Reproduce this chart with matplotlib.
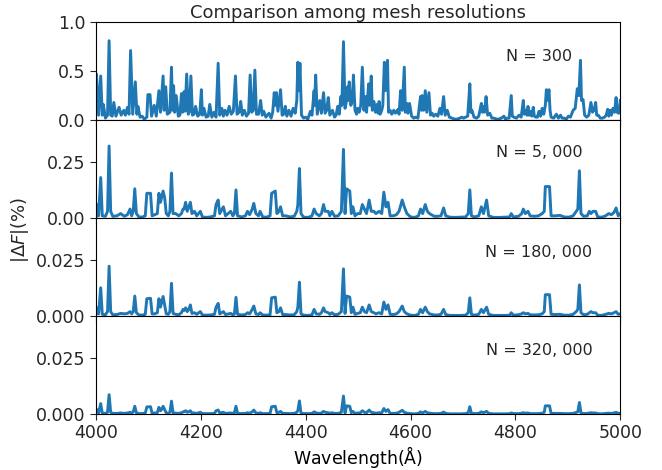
import matplotlib
matplotlib.use('Agg')
import matplotlib.pyplot as plt

# coarse mesh (N = 300): wavelength (A) and |dF| (%)
wl_coarse = [
    4000, 4001, 4005, 4009, 4012, 4014, 4018, 4022, 4025, 4028,
    4031, 4034, 4038, 4044, 4048, 4053, 4056, 4060, 4063, 4066,
    4070, 4075, 4078, 4080, 4084, 4088, 4092, 4097, 4099, 4103,
    4106, 4111, 4115, 4120, 4123, 4128, 4130, 4133, 4136, 4141,
    4144, 4146, 4148, 4150, 4153, 4157, 4160, 4163, 4165, 4168,
    4170, 4173, 4176, 4178, 4181, 4184, 4187, 4190, 4194, 4198,
    4201, 4203, 4206, 4210, 4214, 4217, 4221, 4225, 4229, 4233,
    4236, 4240, 4243, 4246, 4250, 4254, 4258, 4262, 4266, 4269,
    4273, 4276, 4279, 4283, 4287, 4291, 4294, 4297, 4300, 4303,
    4306, 4310, 4314, 4317, 4320, 4324, 4330, 4334, 4337, 4340,
    4342, 4344, 4347, 4352, 4355, 4358, 4361, 4364, 4368, 4372,
    4376, 4380, 4383, 4385, 4387, 4389, 4392, 4396, 4400, 4404,
    4409, 4412, 4416, 4417, 4419, 4422, 4427, 4430, 4434, 4437,
    4440, 4443, 4446, 4451, 4455, 4458, 4461, 4464, 4467, 4469,
    4472, 4475, 4478, 4480, 4481, 4483, 4486, 4489, 4491, 4494,
    4497, 4499, 4502, 4505, 4508, 4511, 4514, 4516, 4520, 4522,
    4525, 4527, 4530, 4533, 4536, 4538, 4540, 4542, 4545, 4547,
    4550, 4552, 4556, 4558, 4561, 4564, 4568, 4571, 4576, 4578,
    4581, 4584, 4588, 4590, 4593, 4595, 4598, 4602, 4606, 4610,
    4614, 4617, 4619, 4621, 4622, 4625, 4628, 4631, 4635, 4638,
    4641, 4644, 4648, 4652, 4656, 4659, 4663, 4666, 4670, 4674,
    4679, 4684, 4689, 4694, 4698, 4701, 4705, 4709, 4713, 4715,
    4717, 4721, 4726, 4730, 4733, 4735, 4737, 4738, 4741, 4744,
    4747, 4751, 4755, 4759, 4764, 4768, 4773, 4778, 4781, 4784,
    4788, 4792, 4794, 4797, 4802, 4807, 4811, 4815, 4817, 4819,
    4822, 4824, 4826, 4829, 4831, 4834, 4836, 4839, 4842, 4845,
    4848, 4851, 4854, 4857, 4859, 4861, 4864, 4866, 4868, 4873,
    4878, 4882, 4886, 4889, 4893, 4897, 4901, 4905, 4910, 4914,
    4918, 4921, 4924, 4926, 4929, 4932, 4936, 4940, 4944, 4947,
    4950, 4953, 4955, 4958, 4962, 4966, 4970, 4973, 4976, 4978,
    4981, 4983, 4986, 4989, 4992, 4994, 4997, 5000,
]
df_300 = [
    .30, .47, .05, .45, .05, .16, .02, .05, .81, .05,
    .04, .18, .04, .13, .05, .10, .05, .13, .06, .71,
    .06, .39, .06, .14, .03, .04, .01, .03, .26, .26,
    .04, .15, .04, .30, .08, .45, .10, .34, .06, .08,
    .54, .10, .35, .08, .25, .04, .05, .27, .08, .29,
    .09, .47, .06, .08, .45, .05, .06, .14, .04, .06,
    .31, .05, .12, .03, .04, .16, .03, .08, .03, .58,
    .05, .12, .04, .10, .05, .14, .06, .09, .45, .06,
    .08, .19, .05, .10, .04, .07, .46, .08, .10, .51,
    .06, .06, .20, .05, .09, .03, .07, .02, .08, .28,
    .15, .28, .09, .31, .05, .06, .14, .04, .10, .04,
    .12, .07, .20, .59, .30, .58, .05, .02, .03, .01,
    .09, .05, .30, .15, .46, .06, .20, .07, .28, .07,
    .10, .23, .05, .10, .03, .05, .14, .06, .24, .15,
    .80, .12, .20, .34, .20, .39, .15, .20, .46, .10,
    .06, .12, .08, .15, .54, .10, .24, .08, .37, .15,
    .45, .10, .19, .08, .16, .07, .19, .06, .10, .15,
    .59, .30, .61, .08, .10, .06, .10, .07, .11, .06,
    .30, .10, .54, .08, .17, .07, .17, .04, .02, .03,
    .02, .15, .24, .10, .25, .10, .30, .08, .28, .05,
    .07, .04, .06, .04, .12, .06, .24, .05, .10, .03,
    .02, .01, .01, .02, .03, .02, .03, .04, .37, .08,
    .10, .03, .02, .04, .12, .17, .08, .14, .08, .24,
    .05, .07, .02, .02, .01, .01, .02, .04, .01, .02,
    .02, .25, .04, .03, .02, .05, .03, .20, .06, .10,
    .05, .14, .05, .09, .04, .13, .04, .03, .03, .09,
    .04, .12, .06, .15, .31, .20, .31, .10, .03, .02,
    .06, .02, .05, .02, .02, .01, .04, .03, .10, .12,
    .32, .25, .61, .20, .21, .05, .03, .05, .18, .08,
    .10, .18, .05, .05, .02, .02, .03, .05, .11, .04,
    .10, .05, .12, .08, .23, .08, .07, .20,
]

# finer meshes share the same line positions
wl_fine = [
    4000, 4002, 4005, 4009, 4012, 4018, 4022, 4025, 4028, 4032,
    4040, 4047, 4054, 4060, 4065, 4068, 4071, 4074, 4077, 4082,
    4088, 4094, 4097, 4104, 4107, 4112, 4117, 4120, 4123, 4125,
    4128, 4131, 4134, 4138, 4141, 4144, 4147, 4152, 4158, 4163,
    4166, 4168, 4171, 4174, 4177, 4180, 4183, 4188, 4192, 4199,
    4203, 4210, 4218, 4226, 4229, 4233, 4236, 4243, 4247, 4257,
    4261, 4264, 4267, 4270, 4278, 4285, 4289, 4293, 4298, 4301,
    4305, 4310, 4313, 4318, 4325, 4332, 4335, 4342, 4345, 4349,
    4352, 4356, 4362, 4370, 4378, 4383, 4385, 4388, 4391, 4396,
    4405, 4412, 4416, 4420, 4426, 4430, 4434, 4437, 4443, 4446,
    4450, 4455, 4462, 4468, 4472, 4475, 4478, 4484, 4487, 4490,
    4494, 4499, 4504, 4508, 4512, 4516, 4521, 4525, 4530, 4534,
    4540, 4545, 4549, 4553, 4557, 4561, 4567, 4573, 4578, 4584,
    4588, 4593, 4600, 4608, 4615, 4619, 4623, 4628, 4632, 4636,
    4645, 4652, 4658, 4663, 4667, 4675, 4685, 4695, 4705, 4710,
    4713, 4716, 4722, 4730, 4735, 4739, 4745, 4749, 4758, 4770,
    4782, 4789, 4792, 4796, 4806, 4812, 4815, 4819, 4824, 4828,
    4836, 4844, 4851, 4855, 4857, 4865, 4868, 4876, 4885, 4893,
    4902, 4910, 4916, 4919, 4922, 4925, 4930, 4937, 4941, 4944,
    4948, 4953, 4957, 4965, 4972, 4978, 4983, 4988, 4992, 4996,
    5000,
]
df_5000 = [
    0.005, 0.06, 0.01, 0.18, 0.01, 0.008, 0.03, 0.32, 0.03, 0.008,
    0.01, 0.02, 0.008, 0.015, 0.04, 0.01, 0.03, 0.13, 0.02, 0.005,
    0.004, 0.01, 0.11, 0.11, 0.01, 0.015, 0.02, 0.11, 0.07, 0.09,
    0.12, 0.09, 0.02, 0.01, 0.03, 0.20, 0.02, 0.02, 0.01, 0.02,
    0.04, 0.04, 0.07, 0.03, 0.05, 0.07, 0.02, 0.03, 0.01, 0.03,
    0.005, 0.003, 0.005, 0.01, 0.06, 0.08, 0.02, 0.05, 0.01, 0.03,
    0.01, 0.02, 0.125, 0.01, 0.005, 0.01, 0.03, 0.015, 0.04, 0.065,
    0.02, 0.01, 0.03, 0.005, 0.004, 0.01, 0.11, 0.12, 0.02, 0.03,
    0.05, 0.01, 0.01, 0.005, 0.008, 0.03, 0.06, 0.22, 0.02, 0.004,
    0.003, 0.01, 0.04, 0.02, 0.01, 0.02, 0.06, 0.03, 0.03, 0.01,
    0.03, 0.008, 0.01, 0.03, 0.305, 0.02, 0.13, 0.12, 0.02, 0.05,
    0.01, 0.02, 0.02, 0.06, 0.04, 0.02, 0.08, 0.03, 0.03, 0.02,
    0.03, 0.02, 0.115, 0.05, 0.07, 0.01, 0.01, 0.015, 0.03, 0.08,
    0.05, 0.02, 0.005, 0.003, 0.01, 0.04, 0.02, 0.06, 0.03, 0.02,
    0.008, 0.008, 0.01, 0.045, 0.01, 0.004, 0.003, 0.004, 0.005, 0.02,
    0.125, 0.01, 0.005, 0.01, 0.05, 0.02, 0.08, 0.01, 0.003, 0.003,
    0.004, 0.005, 0.02, 0.005, 0.008, 0.02, 0.04, 0.02, 0.03, 0.01,
    0.008, 0.01, 0.02, 0.03, 0.14, 0.14, 0.01, 0.01, 0.012, 0.005,
    0.004, 0.01, 0.03, 0.04, 0.21, 0.02, 0.008, 0.01, 0.03, 0.02,
    0.03, 0.03, 0.005, 0.004, 0.01, 0.02, 0.015, 0.025, 0.045, 0.01,
    0.02,
]
df_180000 = [
    0.001, 0.0037, 0.001, 0.0127, 0.0008, 0.0006, 0.002, 0.0224, 0.002, 0.0006,
    0.0007, 0.0012, 0.001, 0.0012, 0.002, 0.001, 0.002, 0.009, 0.0015, 0.0005,
    0.0004, 0.0008, 0.0078, 0.008, 0.001, 0.001, 0.0015, 0.0078, 0.004, 0.006,
    0.0088, 0.005, 0.001, 0.0008, 0.002, 0.0147, 0.0012, 0.0008, 0.0006, 0.0015,
    0.003, 0.0025, 0.0037, 0.002, 0.003, 0.005, 0.0012, 0.0015, 0.0008, 0.002,
    0.0005, 0.0004, 0.0005, 0.0008, 0.004, 0.0057, 0.001, 0.002, 0.0007, 0.0012,
    0.0006, 0.001, 0.0084, 0.0008, 0.0005, 0.0007, 0.0015, 0.001, 0.003, 0.0045,
    0.001, 0.0007, 0.0015, 0.0005, 0.0004, 0.0006, 0.0082, 0.0085, 0.0015, 0.002,
    0.0037, 0.0007, 0.0007, 0.0005, 0.0006, 0.002, 0.004, 0.0152, 0.001, 0.0004,
    0.0003, 0.0006, 0.003, 0.001, 0.0008, 0.0015, 0.0037, 0.002, 0.0015, 0.0008,
    0.0015, 0.0006, 0.0008, 0.002, 0.0212, 0.0012, 0.009, 0.0085, 0.0015, 0.004,
    0.0008, 0.0012, 0.0015, 0.004, 0.002, 0.0015, 0.005, 0.002, 0.0015, 0.001,
    0.0015, 0.001, 0.0063, 0.003, 0.005, 0.0008, 0.0007, 0.001, 0.002, 0.0045,
    0.002, 0.001, 0.0004, 0.0003, 0.0008, 0.003, 0.0015, 0.004, 0.002, 0.001,
    0.0005, 0.0005, 0.0008, 0.003, 0.0007, 0.0003, 0.0003, 0.0003, 0.0004, 0.0015,
    0.0082, 0.0008, 0.0004, 0.0008, 0.003, 0.0015, 0.004, 0.0008, 0.0003, 0.0003,
    0.0003, 0.0004, 0.0015, 0.0004, 0.0006, 0.001, 0.0015, 0.001, 0.0012, 0.0006,
    0.0005, 0.0006, 0.001, 0.002, 0.0096, 0.0096, 0.0008, 0.0007, 0.0008, 0.0004,
    0.0004, 0.0008, 0.002, 0.003, 0.014, 0.0015, 0.0006, 0.0008, 0.0015, 0.002,
    0.0015, 0.0015, 0.0004, 0.0003, 0.0008, 0.0012, 0.001, 0.0015, 0.002, 0.0008,
    0.001,
]
df_320000 = [
    0.0008, 0.002, 0.0005, 0.0047, 0.0004, 0.0003, 0.0008, 0.0087, 0.0008, 0.0003,
    0.0003, 0.0005, 0.0003, 0.0005, 0.0008, 0.0004, 0.001, 0.0035, 0.0006, 0.0002,
    0.0002, 0.0004, 0.0032, 0.0033, 0.0004, 0.0005, 0.0006, 0.003, 0.0015, 0.002,
    0.0035, 0.002, 0.0005, 0.0004, 0.0008, 0.0058, 0.0005, 0.0004, 0.0003, 0.0006,
    0.001, 0.001, 0.0015, 0.0008, 0.001, 0.0015, 0.0005, 0.0005, 0.0003, 0.0008,
    0.0002, 0.0002, 0.0002, 0.0003, 0.0015, 0.0018, 0.0005, 0.0008, 0.0003, 0.0005,
    0.0003, 0.0005, 0.0035, 0.0003, 0.0002, 0.0003, 0.0006, 0.0004, 0.001, 0.0018,
    0.0005, 0.0003, 0.0006, 0.0002, 0.0002, 0.0003, 0.0033, 0.0035, 0.0006, 0.0008,
    0.0012, 0.0003, 0.0003, 0.0002, 0.0003, 0.0008, 0.0015, 0.0059, 0.0005, 0.0002,
    0.0002, 0.0003, 0.001, 0.0005, 0.0003, 0.0005, 0.0012, 0.0008, 0.0006, 0.0003,
    0.0006, 0.0003, 0.0003, 0.0008, 0.0081, 0.0005, 0.0037, 0.0035, 0.0006, 0.0012,
    0.0003, 0.0005, 0.0005, 0.0015, 0.0008, 0.0006, 0.0018, 0.0008, 0.0006, 0.0004,
    0.0006, 0.0005, 0.0025, 0.0012, 0.002, 0.0003, 0.0003, 0.0004, 0.0008, 0.0017,
    0.0008, 0.0004, 0.0002, 0.0001, 0.0003, 0.001, 0.0005, 0.0012, 0.0006, 0.0004,
    0.0002, 0.0002, 0.0003, 0.0009, 0.0003, 0.0001, 0.0001, 0.0001, 0.0002, 0.0006,
    0.0033, 0.0003, 0.0002, 0.0003, 0.001, 0.0006, 0.0012, 0.0003, 0.0001, 0.0001,
    0.0001, 0.0002, 0.0005, 0.0002, 0.0002, 0.0004, 0.0006, 0.0004, 0.0005, 0.0002,
    0.0002, 0.0002, 0.0004, 0.0008, 0.0037, 0.0037, 0.0003, 0.0003, 0.0003, 0.0002,
    0.0002, 0.0003, 0.0008, 0.001, 0.0052, 0.0005, 0.0002, 0.0003, 0.0005, 0.0006,
    0.0005, 0.0005, 0.0002, 0.0001, 0.0003, 0.0004, 0.0003, 0.0005, 0.0008, 0.0003,
    0.0004,
]

labels = ['N = 300', 'N = 5, 000', 'N = 180, 000', 'N = 320, 000']

plt.rcParams['mathtext.fontset'] = 'dejavusans'
plt.rcParams['font.size'] = 12.5
plt.rcParams['text.color'] = '#262626'
plt.rcParams['xtick.color'] = '#262626'
plt.rcParams['ytick.color'] = '#262626'

fig, axes = plt.subplots(4, 1, sharex=True, figsize=(6.62, 4.70), dpi=100)
fig.subplots_adjust(left=0.145, right=0.937, bottom=0.119, top=0.953, hspace=0)

series = [(wl_coarse, df_300), (wl_fine, df_5000),
          (wl_fine, df_180000), (wl_fine, df_320000)]
ylims = [1.0, 0.435, 0.044, 0.044]
yticks = [[0.0, 0.5, 1.0], [0.0, 0.25], [0.0, 0.025], [0.0, 0.025]]
yfmt = ['%.1f', '%.2f', '%.3f', '%.3f']
label_y = [0.65, 0.67, 0.646, 0.646]

for ax, (x, y), top, tk, fmt, lab, ly in zip(axes, series, ylims, yticks,
                                            yfmt, labels, label_y):
    ax.plot(x, y, color='#1f77b4', lw=2.1)
    ax.set_ylim(0, top)
    ax.set_yticks(tk)
    ax.set_yticklabels([fmt % t for t in tk])
    ax.text(0.845, ly, lab, transform=ax.transAxes, ha='center',
            va='center', fontsize=11.5)
    ax.tick_params(direction='out', length=4)

axes[0].set_xlim(4000, 5000)
axes[-1].set_xticks([4000, 4200, 4400, 4600, 4800, 5000])
axes[0].set_title('Comparison among mesh resolutions', fontsize=13, pad=3)
axes[-1].set_xlabel('Wavelength($\\mathrm{\\AA}$)', labelpad=1)
fig.text(0.03, 0.51, r'$|\Delta F|(\%)$', rotation=90, ha='center',
         va='center', fontsize=13)

plt.savefig('out.png', dpi=100)
